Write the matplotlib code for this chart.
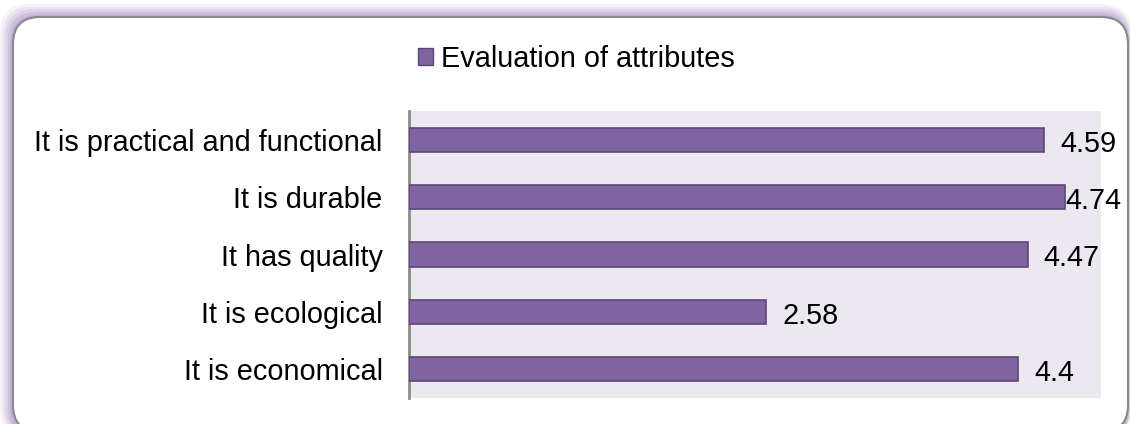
import matplotlib
matplotlib.use("Agg")
import matplotlib.pyplot as plt
from matplotlib.patches import FancyBboxPatch, Patch

categories = [
    "It is practical and functional",
    "It is durable",
    "It has quality",
    "It is ecological",
    "It is economical",
]
scores = [4.59, 4.74, 4.47, 2.58, 4.4]
series_name = "Evaluation of attributes"

W, H = 1130, 424
fig = plt.figure(figsize=(W / 100, H / 100), dpi=100)
fig.patch.set_facecolor("white")
plt.rcParams["font.family"] = ["Liberation Sans", "DejaVu Sans"]
FS = 20.8

# soft lavender glow around the rounded frame, heavier on the top-left
for i, a in enumerate([0.10, 0.15, 0.20, 0.27, 0.36]):
    off = (5 - i) * 2.6
    glow = FancyBboxPatch(
        ((13 - off) / W, -14 / H), (1115 + off * 1.25) / W, (H - 17 + 14 + off) / H,
        boxstyle="round,pad=0,rounding_size=0.026",
        transform=fig.transFigure, facecolor="#a893c6", edgecolor="none",
        alpha=a, mutation_aspect=W / H, zorder=0)
    fig.patches.append(glow)

frame = FancyBboxPatch(
    (13 / W, -8 / H), 1115 / W, (H - 17 + 8) / H,
    boxstyle="round,pad=0,rounding_size=0.024",
    transform=fig.transFigure, facecolor="white", edgecolor="#8a8a8a",
    linewidth=1.5, mutation_aspect=W / H, zorder=1)
fig.patches.append(frame)

ax = fig.add_axes([409 / W, (H - 398) / H, (1101 - 409) / W, (398 - 111) / H])
ax.set_zorder(2)
ax.set_facecolor("#ebe9ef")

ypos = list(range(len(categories)))[::-1]
ax.barh(ypos, scores, height=0.42, color="#8064a2", edgecolor="#5c4776",
        linewidth=1.2, zorder=3)
ax.set_xlim(0, 5)
ax.set_ylim(-0.5, len(categories) - 0.5)
ax.set_yticks(ypos)
ax.set_yticklabels(categories, fontsize=FS, va="center_baseline")
ax.tick_params(axis="y", length=0, pad=19)
ax.set_xticks([])
for s in ["top", "right", "bottom"]:
    ax.spines[s].set_visible(False)
ax.spines["left"].set_color("#8c8c8c")
ax.spines["left"].set_linewidth(2)

fig.canvas.draw()
renderer = fig.canvas.get_renderer()
limit = 1121
for y, v in zip(ypos, scores):
    t = ax.annotate(f"{v:g}", xy=(v, y), xytext=(16, -1), textcoords="offset pixels",
                    va="center_baseline", ha="left", fontsize=FS, zorder=4,
                    annotation_clip=False)
    bb = t.get_window_extent(renderer)
    if bb.x1 > limit:
        t.set_position((16 - (bb.x1 - limit), -1))

legend_handle = Patch(facecolor="#8064a2", edgecolor="#5c4776", label=series_name)
fig.legend(handles=[legend_handle], loc="center", bbox_to_anchor=(576 / W, (H - 59) / H),
           frameon=False, fontsize=FS, handlelength=0.55, handleheight=0.55,
           handletextpad=0.25, borderaxespad=0)

fig.savefig("out.png", dpi=100, facecolor="white")
